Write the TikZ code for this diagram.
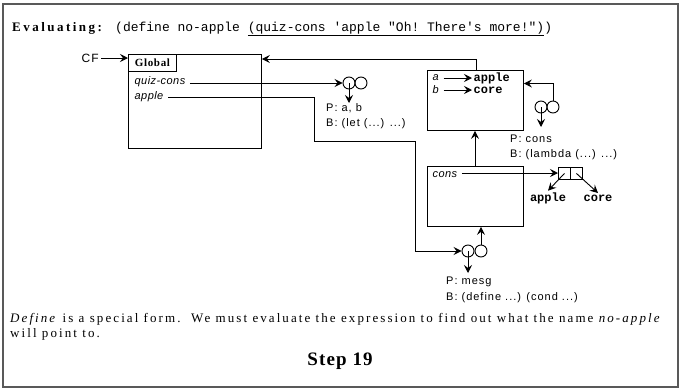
\documentclass[tikz,border=0pt]{standalone}
\usepackage{fontspec}
\setmainfont{Liberation Serif}
\setsansfont{Liberation Sans}
\setmonofont{Liberation Mono}
\usetikzlibrary{arrows.meta}

\newcommand{\fs}[1]{\fontsize{#1}{#1}\selectfont}
\newcommand{\spaced}[1]{\addfontfeature{LetterSpace=#1}}

\tikzset{
  frame/.style={draw=black!65, line width=1.3pt},
  envbox/.style={draw, line width=0.9pt, anchor=north west, inner sep=0pt},
  arr/.style={draw, line width=0.9pt, -{Stealth[length=8pt,width=8pt,inset=3pt]}},
  circ/.style={circle, draw, line width=0.9pt, minimum size=12pt, inner sep=0pt},
  varname/.style={font=\sffamily\itshape\fs{11}\spaced{4}, inner sep=1.5pt},
  sym/.style={font=\ttfamily\bfseries\fs{12}, inner sep=1.5pt},
  proclabel/.style={font=\sffamily\fs{11}\spaced{9}, anchor=west, inner sep=0pt},
  body/.style={font=\fs{13}\spaced{16}, anchor=base west, inner sep=0pt},
}

\begin{document}
\begin{tikzpicture}[x=1pt,y=-1pt]
\useasboundingbox (0,0) rectangle (681,389);
\draw[frame] (3,4) rectangle (678,387);

% heading
\node[anchor=base west, inner sep=0pt, font=\bfseries\fs{13}\spaced{19}] (evl) at (12,31) {Evaluating:};
\node[anchor=base west, inner sep=0pt, font=\ttfamily\fs{13}] (code) at (115,31)
  {(define no-apple \underline{(quiz-cons 'apple "Oh! There's more!")})};

% global environment
\node[envbox, minimum width=133pt, minimum height=94pt] (global) at (128,54) {};
\node[envbox, minimum width=48pt, minimum height=17pt, font=\bfseries\fs{11}\spaced{6}] (glabel) at (128,54) {Global};
\node[anchor=east, font=\sffamily\fs{12}\spaced{10}, inner sep=2pt] (cf) at (101,58) {CF};
\draw[arr] (cf.east) -- (glabel.west |- cf.east);
\node[varname, anchor=west] (qc) at (133,82) {quiz-cons};
\node[varname, anchor=west] (ap) at (133,97) {apple};

% procedure quiz-cons
\node[circ] (p1l) at (349,83) {};
\node[circ] (p1r) at (361,83) {};
\coordinate (p1d) at (349,103);
\draw[arr] (qc.east) ++(3,1) -- (p1l.west);
\draw[arr] (p1l.center) -- (p1d);
\node[proclabel] (p1p) at (326,108) {P: a, b};
\node[proclabel] (p1b) at (326,124) {B: (let (...) ...)};

% frame with a and b
\node[envbox, minimum width=96pt, minimum height=60pt] (e1) at (427,70) {};
\draw[arr] ([xshift=49pt]e1.north west) |- ([yshift=-5pt]global.north east);
\node[varname, anchor=west] (ba) at (431,78) {a};
\node[varname, anchor=west] (bb) at (431,90) {b};
\node[sym, anchor=west] (va) at (472,78) {apple};
\node[sym, anchor=west] (vb) at (472,90) {core};
\draw[arr] (ba.east) ++(3,0) -- (va.west);
\draw[arr] (bb.east) ++(3,0) -- (vb.west);

% procedure cons
\node[circ] (p2l) at (541,107) {};
\node[circ] (p2r) at (553,107) {};
\coordinate (p2d) at (541,127);
\draw[arr] (p2r.north) |- ([yshift=17pt]e1.east);
\draw[arr] (p2l.center) -- (p2d);
\node[proclabel] (p2p) at (510,139) {P: cons};
\node[proclabel] (p2b) at (510,155) {B: (lambda (...) ...)};

% frame with cons
\node[envbox, minimum width=96pt, minimum height=60pt] (cenv) at (427,166) {};
\draw[arr] ([xshift=48pt]cenv.north west) -- ([xshift=48pt]e1.south west);
\node[varname, anchor=west] (cn) at (431,175) {cons};

% pair
\node[envbox, minimum width=12pt, minimum height=12pt] (car) at (558,167) {};
\node[envbox, minimum width=12pt, minimum height=12pt] (cdr) at (570,167) {};
\draw[arr] ([xshift=3pt,yshift=2pt]cn.east) -- ([yshift=2pt]cn.east -| car.west);
\node[sym] (pa) at (548,198) {apple};
\node[sym] (pc) at (598,198) {core};
\draw[arr] (car.center) -- (pa.north);
\draw[arr] (cdr.center) -- (pc.north);

% procedure mesg
\node[circ] (p3l) at (468,251) {};
\node[circ] (p3r) at (481,251) {};
\coordinate (p3d) at (468,273);
\draw[arr] (ap.east) ++(3,0) -- (314,97) -- (314,141) -- (415,141) -- (415,251) -- (p3l.west);
\draw[arr] (p3r.north) -- (p3r.north |- cenv.south);
\draw[arr] (p3l.center) -- (p3d);
\node[proclabel] (p3p) at (446,282) {P: mesg};
\node[proclabel] (p3b) at (446,298) {B: (define ...) (cond ...)};

% explanation
\node[body] (t1) at (10,322) {\textit{Define} is a special form.\ \ We must evaluate the expression to find out what the name \textit{no-apple}};
\node[body] (t2) at (10,337) {will point to.};
\node[font=\bfseries\fs{19}\spaced{6}] (step) at (340,361) {Step 19};
\end{tikzpicture}
\end{document}
